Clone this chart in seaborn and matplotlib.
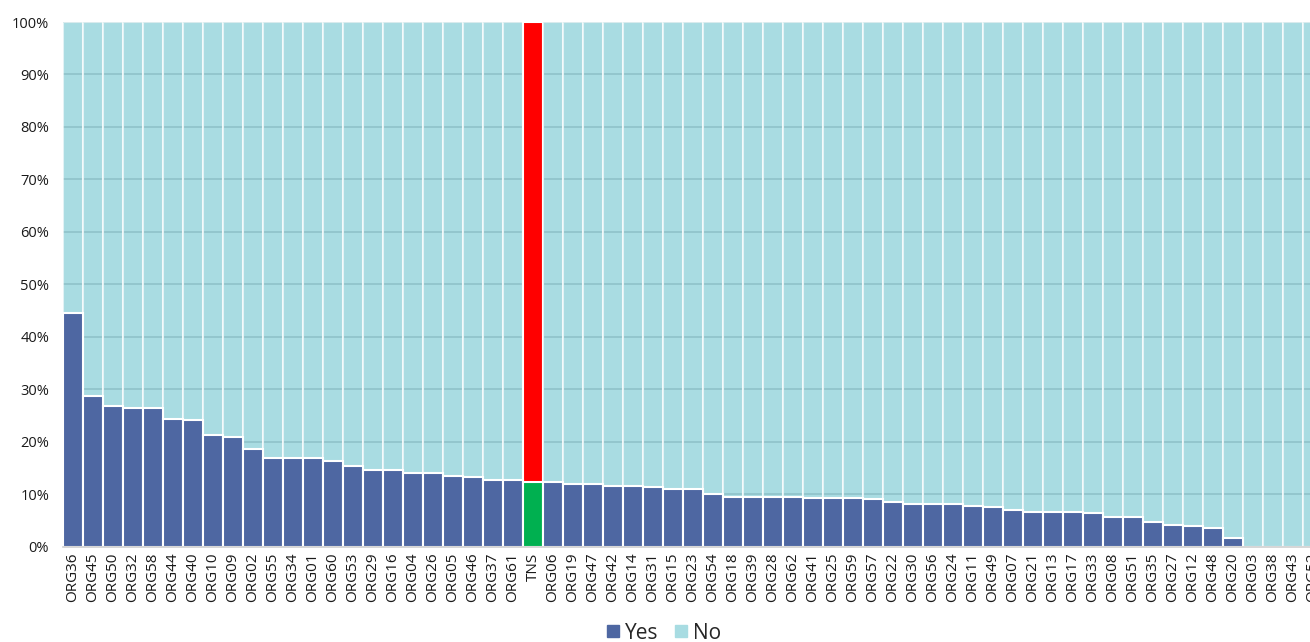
import numpy as np
import pandas as pd
import matplotlib.pyplot as plt
import seaborn as sns
from matplotlib.patches import Patch

# Share of "Yes" answers per organisation (%), rest is "No"
orgs = ['ORG36', 'ORG45', 'ORG50', 'ORG32', 'ORG58', 'ORG44', 'ORG40', 'ORG10', 'ORG09',
        'ORG02', 'ORG55', 'ORG34', 'ORG01', 'ORG60', 'ORG53', 'ORG29', 'ORG16', 'ORG04',
        'ORG26', 'ORG05', 'ORG46', 'ORG37', 'ORG61', 'TNS', 'ORG06', 'ORG19', 'ORG47',
        'ORG42', 'ORG14', 'ORG31', 'ORG15', 'ORG23', 'ORG54', 'ORG18', 'ORG39', 'ORG28',
        'ORG62', 'ORG41', 'ORG25', 'ORG59', 'ORG57', 'ORG22', 'ORG30', 'ORG56', 'ORG24',
        'ORG11', 'ORG49', 'ORG07', 'ORG21', 'ORG13', 'ORG17', 'ORG33', 'ORG08', 'ORG51',
        'ORG35', 'ORG27', 'ORG12', 'ORG48', 'ORG20', 'ORG03', 'ORG38', 'ORG43', 'ORG52']
yes_pct = [44.6, 28.8, 26.9, 26.5, 26.5, 24.3, 24.1, 21.2, 21.0,
           18.7, 17.0, 17.0, 17.0, 16.4, 15.3, 14.6, 14.6, 14.1,
           14.1, 13.5, 13.2, 12.7, 12.7, 12.4, 12.4, 11.9, 11.9,
           11.6, 11.6, 11.3, 11.0, 11.0, 10.1, 9.5, 9.5, 9.5,
           9.5, 9.3, 9.3, 9.3, 9.0, 8.5, 8.1, 8.1, 8.1,
           7.8, 7.5, 7.0, 6.7, 6.7, 6.7, 6.4, 5.6, 5.6,
           4.7, 4.2, 3.9, 3.6, 1.7, 0.0, 0.0, 0.0, 0.0]
highlight = 'TNS'
y_ticks = list(range(0, 101, 10))

sns.set_style('white')
plt.rcParams['font.family'] = ['Open Sans', 'DejaVu Sans']

df = pd.DataFrame({'org': orgs, 'yes': yes_pct})
df['total'] = 100.0

yes_color = '#4E67A2'
no_color = '#7DCAD4'
no_pal = {o: ('#FF0000' if o == highlight else no_color) for o in orgs}
yes_pal = {o: ('#00B050' if o == highlight else yes_color) for o in orgs}

fig = plt.figure(figsize=(13.1, 6.42), dpi=100)
ax = fig.add_axes([63 / 1310, 95.3 / 642, 1260 / 1310, 524.7 / 642])
ax.yaxis.grid(True, color='#b4b4b4', lw=1.2)
ax.set_axisbelow(True)

# full-height "No" bars, then "Yes" on top
sns.barplot(data=df, x='org', y='total', hue='org', palette=no_pal, width=1, saturation=1,
            edgecolor='white', linewidth=1.5, legend=False, ax=ax)
for p, o in zip(ax.patches, orgs):
    if o != highlight:
        p.set_alpha(0.66)
sns.barplot(data=df, x='org', y='yes', hue='org', palette=yes_pal, width=1, saturation=1,
            edgecolor='white', linewidth=1.5, legend=False, ax=ax)

ax.set_xlim(-0.5, len(orgs) - 0.5)
ax.set_ylim(0, 100)
ax.set_yticks(y_ticks)
ax.set_yticklabels([f'{v}%' for v in y_ticks])
ax.set_xlabel('')
ax.set_ylabel('')
ax.tick_params(axis='x', rotation=90, length=0, pad=4, labelsize=11, labelcolor='#1a1a1a')
ax.tick_params(axis='y', length=0, pad=10, labelsize=10.5, labelcolor='#1a1a1a')
for s in ['left', 'top', 'right']:
    ax.spines[s].set_visible(False)
ax.spines['bottom'].set_color('#d0d0d0')
ax.spines['bottom'].set_linewidth(1.2)
ax.spines['bottom'].set_zorder(5)

handles = [Patch(color=yes_color, label='Yes'), Patch(color='#A8DCE2', label='No')]
fig.legend(handles=handles, loc='center', bbox_to_anchor=(0.507, 0.014), ncol=2,
           frameon=False, fontsize=15, handlelength=0.55, handleheight=0.55,
           handletextpad=0.3, columnspacing=0.8)

fig.savefig('out.png', dpi=100)
